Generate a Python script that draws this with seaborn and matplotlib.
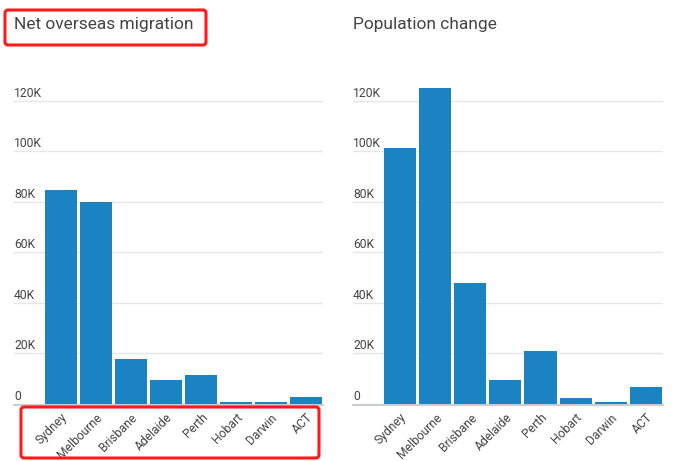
import matplotlib
matplotlib.use('Agg')
import matplotlib.pyplot as plt
import matplotlib.transforms as mtransforms
from matplotlib.patches import FancyBboxPatch
import seaborn as sns
import pandas as pd

cities = ['Sydney', 'Melbourne', 'Brisbane', 'Adelaide', 'Perth', 'Hobart', 'Darwin', 'ACT']
net_overseas = [84900, 80100, 17800, 9500, 11500, 800, 800, 2800]
pop_change = [101500, 125300, 48000, 9500, 21000, 2400, 800, 6700]
yticks = [0, 20000, 40000, 60000, 80000, 100000, 120000]
ytick_labels = ['0', '20K', '40K', '60K', '80K', '100K', '120K']

sns.set_theme(style='white')
plt.rcParams['font.family'] = ['Roboto', 'DejaVu Sans']

W, H = 674, 461
fig = plt.figure(figsize=(W / 100, H / 100), dpi=100)

bar_color = '#1b83c1'
text_color = '#444444'


def panel(x0, x1, values, title):
    ax = fig.add_axes([x0 / W, (H - 404) / H, (x1 - x0) / W, (404 - 75.7) / H])
    df = pd.DataFrame({'city': cities, 'value': values})
    sns.barplot(data=df, x='city', y='value', color=bar_color, saturation=1,
                width=0.914, linewidth=0, edgecolor='none', ax=ax, zorder=3)
    ax.set_xlim(-1.34, 7.49)
    ax.set_ylim(0, 130000)
    for s in ax.spines.values():
        s.set_visible(False)
    for t in yticks[1:]:
        ax.axhline(t, color='#e6e6e6', lw=1, zorder=1)
    base = ax.axhline(0, color='#cccccc', lw=1.5, zorder=2, clip_on=False)
    base.set_transform(base.get_transform() +
                       mtransforms.ScaledTranslation(0, -1 / 100, fig.dpi_scale_trans))
    ax.set_xlabel('')
    ax.set_ylabel('')
    ax.set_yticks(yticks, ytick_labels)
    ax.tick_params(axis='y', length=0, pad=0, labelsize=8.7, labelcolor=text_color)
    off = mtransforms.ScaledTranslation(0, 1 / 100, fig.dpi_scale_trans)
    for lbl in ax.get_yticklabels():
        lbl.set_ha('left')
        lbl.set_va('bottom')
        lbl.set_transform(lbl.get_transform() + off)
    ax.set_xticks(range(len(cities)), cities)
    ax.tick_params(axis='x', length=0, pad=5, labelsize=8.7, labelcolor=text_color)
    for lbl in ax.get_xticklabels():
        lbl.set_rotation(45)
        lbl.set_ha('right')
        lbl.set_rotation_mode('anchor')
    fig.text(x0 / W, 1 - 28.5 / H, title, ha='left', va='baseline',
             fontsize=12.5, color=text_color)
    return ax


panel(14, 323, net_overseas, 'Net overseas migration')
panel(353, 663, pop_change, 'Population change')


def red_box(x0, y0, x1, y1):
    box = FancyBboxPatch((x0 / 100, (H - y1) / 100), (x1 - x0) / 100, (y1 - y0) / 100,
                         boxstyle='round,pad=0,rounding_size=0.03',
                         transform=fig.dpi_scale_trans, fill=False,
                         edgecolor='#ff1a1a', lw=2.2, zorder=10)
    fig.add_artist(box)


red_box(5, 10, 206, 45)
red_box(21, 407, 319, 458)

fig.savefig('out.png', dpi=100)
